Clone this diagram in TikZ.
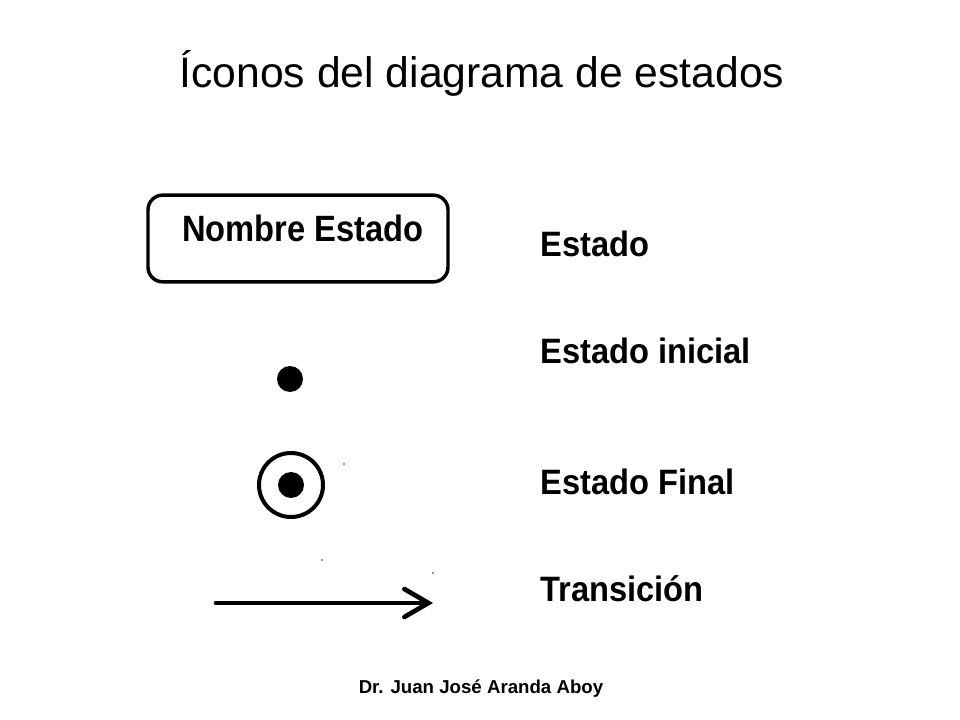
\documentclass[tikz,border=0pt]{standalone}
\usepackage{fontspec}
\setmainfont{Liberation Sans}
\usetikzlibrary{arrows.meta}
\begin{document}
\begin{tikzpicture}[x=0.75pt,y=-0.75pt,
  lbl/.style={font=\fontsize{24.5}{28}\selectfont\bfseries, anchor=base west, inner sep=0pt},
  dot/.style={circle, fill=black, minimum size=19.5pt, inner sep=0pt},
  speck/.style={fill=black!55}]
\useasboundingbox[fill=white] (0,0) rectangle (960,720);
% title and footer
\node[anchor=base, inner sep=0pt, font=\fontsize{32}{38}\selectfont] (title) at (482,88) {Íconos del diagrama de estados};
\node[anchor=base, inner sep=0pt, font=\fontsize{14}{17}\selectfont\bfseries] (footer) at (481,693) {Dr. Juan José Aranda Aboy};
% state box
\node[draw, line width=2.6pt, rounded corners=11pt, minimum width=225pt, minimum height=65pt, inner sep=0pt] (state) at (298,238.5) {};
\node[anchor=base west, inner sep=0pt, font=\fontsize{24.5}{28}\selectfont\bfseries] (stname) at (182,242) {\scalebox{1}[1.12]{Nombre Estado}};
% initial and final
\node[dot] (init) at (290,379) {};
\node[circle, draw, line width=3pt, minimum size=48pt, inner sep=0pt] (final) at (291,485) {};
\node[dot] (finaldot) at (final.center) {};
% transition arrow
\coordinate (ta) at (216,603);
\coordinate (tb) at (433,603);
\draw[line width=3.5pt, line cap=round, -{Straight Barb[length=18pt, width=21pt, line cap=round]}] (ta) -- (tb);
% labels
\node[lbl] (l1) at (540,257) {\scalebox{1}[1.08]{Estado}};
\node[lbl] (l2) at (540,363) {\scalebox{1}[1.08]{Estado inicial}};
\node[lbl] (l3) at (540,494) {\scalebox{1}[1.08]{Estado Final}};
\node[lbl] (l4) at (540,601) {\scalebox{1}[1.08]{Transición}};
% scan specks
\fill[speck] (344,464) circle (1.2);
\fill[speck] (322,560) circle (1.2);
\fill[speck] (433,573) circle (1.2);
\end{tikzpicture}
\end{document}
